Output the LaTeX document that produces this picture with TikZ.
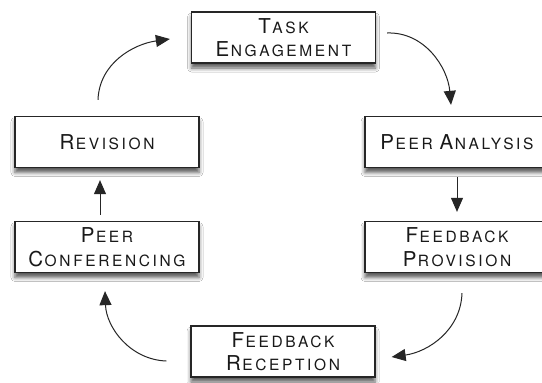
\documentclass[tikz,border=0pt]{standalone}
\usepackage{fontspec}
\usetikzlibrary{arrows.meta,shadows.blur}
\newfontfamily\boxfont{TeX Gyre Heros}[LetterSpace=17]
\newcommand{\scword}[2]{{\fontsize{20.5}{23.5}\selectfont #1}\kern1.5pt{\fontsize{15.5}{23.5}\selectfont #2}}
\tikzset{
  stage/.style={draw=black!85, line width=1.3pt, fill=white, minimum width=184pt,
    minimum height=51pt, align=center, text=black!90, inner sep=2pt,
    font=\boxfont\fontsize{15.5}{23.5}\selectfont,
    blur shadow={shadow xshift=0pt, shadow yshift=-5pt, shadow blur radius=4pt, shadow opacity=65}},
  flow/.style={line width=1pt, draw=black!85, -{Triangle[length=14pt,width=12pt]}}
}
\begin{document}
\begin{tikzpicture}[x=1pt,y=-1pt]
\clip (0,0) rectangle (542,383);
\fill[white] (0,0) rectangle (542,383);
\node[stage] (task) at (283.5,37.5){\scword{T}{ASK}\\\scword{E}{NGAGEMENT}};
\node[stage] (rev) at (107,142){\scword{R}{EVISION}};
\node[stage] (pa) at (457,142){\scword{P}{EER} \scword{A}{NALYSIS}};
\node[stage] (pc) at (107,247){\scword{P}{EER}\\\scword{C}{ONFERENCING}};
\node[stage] (fp) at (457,247){\scword{F}{EEDBACK}\\\scword{P}{ROVISION}};
\node[stage] (fr) at (283,351.5){\scword{F}{EEDBACK}\\\scword{R}{ECEPTION}};
\draw[flow] ([xshift=-9pt,yshift=16pt]rev.north) to[out=88,in=188] ([xshift=-21pt,yshift=-1.5pt]task.west);
\draw[flow] ([xshift=11pt,yshift=4.5pt]task.east) to[out=2,in=95] ([xshift=-6pt,yshift=11pt]pa.north);
\draw[flow] ([yshift=-9pt]pa.south) -- ([yshift=9pt]fp.north);
\draw[flow] ([xshift=5pt,yshift=-20pt]fp.south) to[out=-92,in=8] ([xshift=16pt,yshift=-5.5pt]fr.east);
\draw[flow] ([xshift=-24pt,yshift=-9.5pt]fr.west) to[out=178,in=-88] ([xshift=-2pt,yshift=-18pt]pc.south);
\draw[flow] ([xshift=-7pt,yshift=6pt]pc.north) -- ([xshift=-7pt,yshift=-12pt]rev.south);
\end{tikzpicture}
\end{document}
